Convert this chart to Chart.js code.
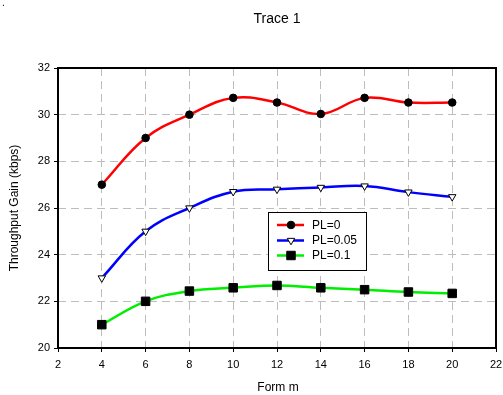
<!DOCTYPE html>
<html><head><meta charset="utf-8">
<script src="https://cdn.jsdelivr.net/npm/chart.js@4"></script>
<style>html,body{margin:0;padding:0;background:#fff}#w{width:503px;height:395px}</style>
</head><body><div id="w"><canvas id="c" width="503" height="395"></canvas></div>
<script>
const xValues = [4, 6, 8, 10, 12, 14, 16, 18, 20];
const pl0 = [27, 29, 30, 30.72, 30.52, 30.03, 30.72, 30.52, 30.52];
const pl005 = [23, 25, 26, 26.7, 26.8, 26.88, 26.94, 26.68, 26.48];
const pl01 = [21, 22, 22.44, 22.58, 22.68, 22.58, 22.5, 22.4, 22.34];
const seriesNames = ['PL=0', 'PL=0.05', 'PL=0.1'];
const xTicks = [2, 4, 6, 8, 10, 12, 14, 16, 18, 20, 22];
const yTicks = [20, 22, 24, 26, 28, 30, 32];
const titleText = 'Trace 1';
const xTitle = 'Form m';
const yTitle = 'Throughput Gain (kbps)';

const FONT = '"Liberation Sans", Arial, sans-serif';
const toPts = arr => arr.map((v, i) => ({x: xValues[i], y: v}));

const styles = [
  {color: '#ff0000', pointStyle: 'circle', radius: 3.8, fill: '#000', rotation: 0},
  {color: '#0000ff', pointStyle: 'triangle', radius: 4.3, fill: '#fff', rotation: 180},
  {color: '#00ee00', pointStyle: 'rect', radius: 6, fill: '#000', rotation: 0}
];
const values = [pl0, pl005, pl01];

const datasets = values.map((v, i) => ({
  label: seriesNames[i],
  data: toPts(v),
  borderColor: styles[i].color,
  borderWidth: 2.5,
  tension: 0.4,
  pointStyle: styles[i].pointStyle,
  pointRadius: styles[i].radius,
  pointRotation: styles[i].rotation,
  pointBackgroundColor: styles[i].fill,
  pointBorderColor: '#000',
  pointBorderWidth: 1,
  fill: false
}));

const gridColor = (edges) => (ctx) => edges.includes(ctx.tick && ctx.tick.value) ? 'rgba(0,0,0,0)' : '#bdbdbd';

const deco = {
  id: 'deco',
  afterDraw(chart) {
    const {ctx, chartArea: a} = chart;
    ctx.save();
    ctx.strokeStyle = '#000';
    ctx.lineWidth = 2;
    ctx.strokeRect(a.left, a.top, a.right - a.left, a.bottom - a.top);
    ctx.fillStyle = '#000';
    ctx.font = '14px ' + FONT;
    ctx.textAlign = 'center';
    ctx.textBaseline = 'middle';
    ctx.fillText(titleText, 277, 19);
    ctx.font = '12px ' + FONT;
    ctx.fillText(xTitle, 278, 388);
    ctx.save();
    ctx.translate(15, 208);
    ctx.rotate(-Math.PI / 2);
    ctx.fillText(yTitle, 0, 0);
    ctx.restore();
    ctx.font = '10px ' + FONT;
    ctx.textAlign = 'left';
    ctx.fillText('.', 2, 3);
    // legend
    const lx = 268, ly = 212, lw = 98, lh = 58;
    ctx.fillStyle = '#fff';
    ctx.fillRect(lx, ly, lw, lh);
    ctx.strokeStyle = '#000';
    ctx.lineWidth = 1;
    ctx.strokeRect(lx + 0.5, ly + 0.5, lw, lh);
    const rows = [225, 240.5, 255.5];
    chart.data.datasets.forEach((ds, i) => {
      const y = rows[i];
      ctx.strokeStyle = ds.borderColor;
      ctx.lineWidth = 2.5;
      ctx.beginPath(); ctx.moveTo(277, y); ctx.lineTo(304, y); ctx.stroke();
      ctx.fillStyle = ds.pointBackgroundColor;
      ctx.strokeStyle = '#000';
      ctx.lineWidth = 1;
      Chart.helpers.drawPoint(ctx, {pointStyle: ds.pointStyle, radius: ds.pointRadius, rotation: ds.pointRotation, borderWidth: 1}, 291, y);
      ctx.fillStyle = '#000';
      ctx.font = '12px ' + FONT;
      ctx.textAlign = 'left';
      ctx.fillText(ds.label, 312, y + 0.5);
    });
    ctx.restore();
  }
};

new Chart(document.getElementById('c'), {
  type: 'line',
  data: {datasets},
  options: {
    responsive: false,
    animation: false,
    events: [],
    layout: {padding: {left: 0, top: 68, right: 7, bottom: 0}},
    plugins: {legend: {display: false}, title: {display: false}, tooltip: {enabled: false}},
    scales: {
      x: {
        type: 'linear', min: 2, max: 22,
        afterBuildTicks: s => { s.ticks = xTicks.map(v => ({value: v})); },
        afterFit: s => { s.height = 47; s.paddingLeft = 0; s.paddingRight = 0; },
        ticks: {color: '#000', font: {size: 11, family: FONT}, padding: 6, maxRotation: 0, autoSkip: false},
        grid: {color: gridColor([2, 22]), lineWidth: 1, tickLength: 4, tickColor: '#000', tickWidth: 1, tickBorderDash: []},
        border: {display: false, dash: [8, 5]}
      },
      y: {
        type: 'linear', min: 20, max: 32,
        afterBuildTicks: s => { s.ticks = yTicks.map(v => ({value: v})); },
        afterFit: s => { s.width = 58; s.paddingTop = 0; s.paddingBottom = 0; },
        ticks: {color: '#000', font: {size: 11, family: FONT}, padding: 4, autoSkip: false},
        grid: {color: gridColor([20, 32]), lineWidth: 1, tickLength: 4, tickColor: '#000', tickWidth: 1, tickBorderDash: []},
        border: {display: false, dash: [8, 5]}
      }
    }
  },
  plugins: [deco]
});
</script></body></html>
